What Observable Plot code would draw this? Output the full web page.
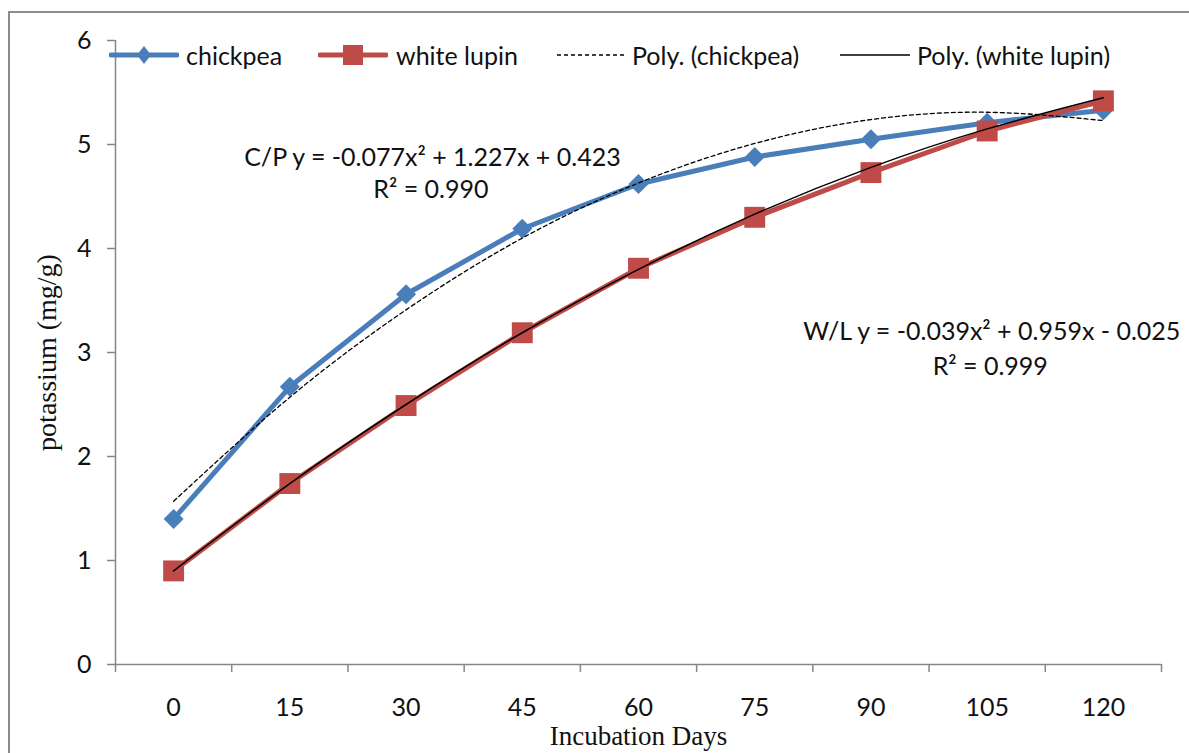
<!DOCTYPE html>
<html>
<head>
<meta charset="utf-8">
<script src="https://cdn.jsdelivr.net/npm/d3@7"></script>
<script src="https://cdn.jsdelivr.net/npm/@observablehq/plot@0.6"></script>
<style>
  body { margin: 0; overflow: hidden; background: #fff; }
  #wrap { position: relative; width: 1189px; height: 753px; overflow: hidden; background: #fff; }
  #border { position: absolute; left: 8px; top: 11px; width: 1220px; height: 800px; border: 2px solid #8c8c8c; box-sizing: border-box; pointer-events: none; }
  #chart { position: absolute; left: 0; top: 0; }
  .leg-item { position: absolute; top: 41px; height: 28px; }
  .leg-text { position: absolute; top: 41px; height: 28px; line-height: 28px; font-size: 25px; color: #111; white-space: nowrap;
              font-family: Lato, "Open Sans", sans-serif; }
</style>
</head>
<body>
<div id="wrap">
  <div id="chart"></div>
  <div id="border"></div>
</div>
<script>
// ---- data ----
const days = [0, 15, 30, 45, 60, 75, 90, 105, 120];
const chickpea = [1.40, 2.67, 3.56, 4.19, 4.62, 4.88, 5.05, 5.21, 5.33];
const whiteLupin = [0.90, 1.74, 2.49, 3.19, 3.81, 4.30, 4.73, 5.13, 5.42];
const polyChickpea = [1.57, 2.57, 3.41, 4.10, 4.63, 5.01, 5.24, 5.31, 5.23];
const polyWhiteLupin = [0.90, 1.74, 2.50, 3.19, 3.80, 4.33, 4.78, 5.15, 5.45];
const yTicks = [0, 1, 2, 3, 4, 5, 6];
const seriesNames = ["chickpea", "white lupin", "Poly. (chickpea)", "Poly. (white lupin)"];
const eqChickpea = ["C/P y = -0.077x² + 1.227x + 0.423", "R² = 0.990"];
const eqWhiteLupin = ["W/L y = -0.039x² + 0.959x - 0.025", "R² = 0.999"];
const xTitle = "Incubation Days";
const yTitle = "potassium (mg/g)";

const toRows = vals => days.map((d, i) => ({day: d, value: vals[i]}));
const step = days[1] - days[0];
const xDomain = [days[0] - step / 2, days[days.length - 1] + step / 2];
const xBoundaries = days.map(d => d - step / 2).concat([xDomain[1]]);

const FONT = 'Lato, "Open Sans", sans-serif';
const SERIF = '"Liberation Serif", "DejaVu Serif", serif';
const BLUE = "#4a7ebb";
const RED = "#be4b48";
const AXIS = "#868686";
const FS = 25;

const chart = Plot.plot({
  width: 1189,
  height: 753,
  marginLeft: 115,
  marginRight: 28,
  marginTop: 40,
  marginBottom: 89,
  style: {fontFamily: FONT, background: "transparent", color: "#111"},
  x: {domain: xDomain, axis: null},
  y: {domain: [0, 6], axis: null},
  marks: [
    Plot.ruleY([0], {stroke: AXIS, strokeWidth: 1.5}),
    Plot.ruleX([xDomain[0]], {stroke: AXIS, strokeWidth: 1.5}),
    Plot.axisY(yTicks, {tickSize: 8, tickPadding: 16, fontSize: FS, stroke: AXIS, strokeWidth: 1.5, fill: "#111", tickFormat: d3.format("d"), label: null}),
    Plot.axisX(xBoundaries, {tickSize: 8, tickFormat: () => "", stroke: AXIS, strokeWidth: 1.5, label: null}),
    Plot.axisX(days, {tickSize: 0, tickPadding: 34, fontSize: FS, fill: "#111", tickFormat: d3.format("d"), label: null}),
    Plot.text([xTitle], {frameAnchor: "bottom", dy: 80, fontSize: 27, fontFamily: SERIF, fill: "#111"}),
    Plot.text([yTitle], {frameAnchor: "left", textAnchor: "middle", dx: -68, rotate: -90, fontSize: 28, fontFamily: SERIF, fill: "#111"}),
    // chickpea
    Plot.line(toRows(chickpea), {x: "day", y: "value", stroke: BLUE, strokeWidth: 5}),
    Plot.dot(toRows(chickpea), {x: "day", y: "value", symbol: "diamond2", r: 9, fill: BLUE, stroke: "none"}),
    // white lupin
    Plot.line(toRows(whiteLupin), {x: "day", y: "value", stroke: RED, strokeWidth: 5}),
    Plot.dot(toRows(whiteLupin), {x: "day", y: "value", symbol: "square", r: 11.8, fill: RED, stroke: "none"}),
    // trendlines
    Plot.line(toRows(polyChickpea), {x: "day", y: "value", curve: "natural", stroke: "#000", strokeWidth: 1.3, strokeDasharray: "4,3"}),
    Plot.line(toRows(polyWhiteLupin), {x: "day", y: "value", curve: "natural", stroke: "#000", strokeWidth: 1.5}),
    // equations
    Plot.text([eqChickpea[0]], {x: 33.4, y: 4.875, fontSize: FS, fill: "#111"}),
    Plot.text([eqChickpea[1]], {x: 33.2, y: 4.56, fontSize: FS, fill: "#111"}),
    Plot.text([eqWhiteLupin[0]], {x: 105.6, y: 3.2, fontSize: FS, fill: "#111"}),
    Plot.text([eqWhiteLupin[1]], {x: 105.4, y: 2.865, fontSize: FS, fill: "#111"})
  ]
});
document.getElementById("chart").appendChild(chart);

// ---- legend ----
const wrap = d3.select("#wrap");
const legendItems = [
  {name: seriesNames[0], swatchX: 109, textX: 186, kind: "diamond"},
  {name: seriesNames[1], swatchX: 318, textX: 396, kind: "square"},
  {name: seriesNames[2], swatchX: 557, textX: 632, kind: "dash"},
  {name: seriesNames[3], swatchX: 840, textX: 917, kind: "solid"}
];
for (const it of legendItems) {
  const svg = wrap.append("svg").attr("class", "leg-item").attr("width", 70).attr("height", 28)
    .style("left", it.swatchX + "px");
  if (it.kind === "diamond") {
    svg.append("line").attr("x1", 2).attr("x2", 68).attr("y1", 14).attr("y2", 14)
      .attr("stroke", BLUE).attr("stroke-width", 5).attr("stroke-linecap", "round");
    svg.append("path").attr("d", "M35,5 L42,14 L35,23 L28,14 Z").attr("fill", BLUE);
  } else if (it.kind === "square") {
    svg.append("line").attr("x1", 2).attr("x2", 68).attr("y1", 14).attr("y2", 14)
      .attr("stroke", RED).attr("stroke-width", 5).attr("stroke-linecap", "round");
    svg.append("rect").attr("x", 25).attr("y", 4).attr("width", 20).attr("height", 20).attr("fill", RED);
  } else if (it.kind === "dash") {
    svg.append("line").attr("x1", 0).attr("x2", 68).attr("y1", 14).attr("y2", 14)
      .attr("stroke", "#000").attr("stroke-width", 1.3).attr("stroke-dasharray", "4,3");
  } else {
    svg.append("line").attr("x1", 0).attr("x2", 70).attr("y1", 14).attr("y2", 14)
      .attr("stroke", "#000").attr("stroke-width", 1.5);
  }
  wrap.append("div").attr("class", "leg-text").style("left", it.textX + "px").text(it.name);
}
</script>
</body>
</html>
